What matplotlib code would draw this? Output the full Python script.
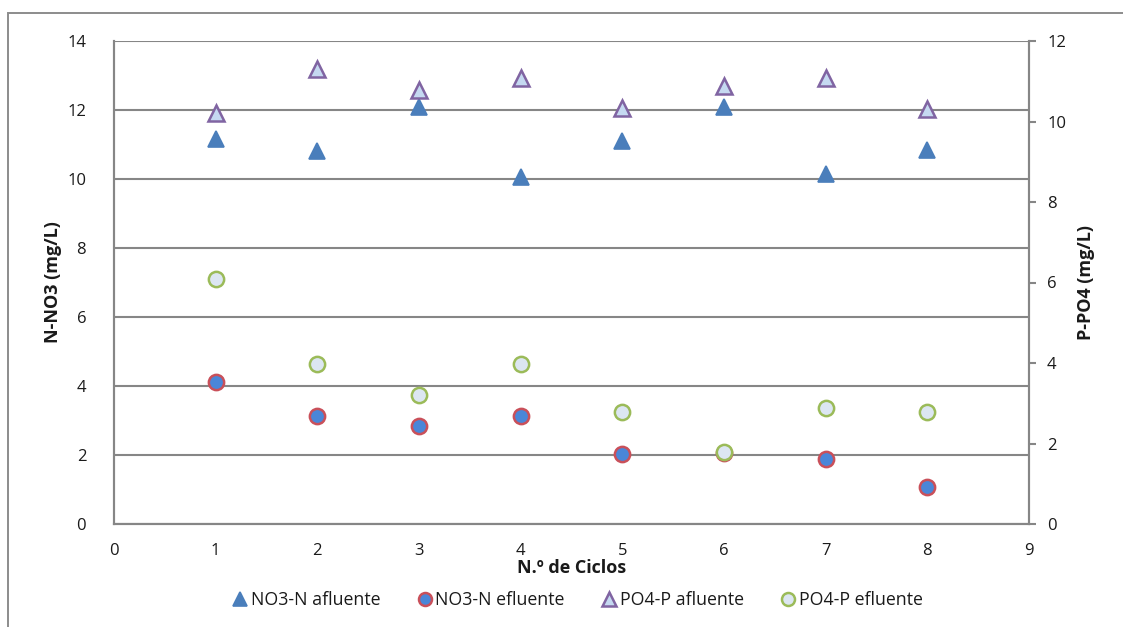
import matplotlib
matplotlib.use("Agg")
import matplotlib.pyplot as plt
from matplotlib.patches import Rectangle

plt.rcParams['font.family'] = ['Open Sans', 'DejaVu Sans']

ciclos = [1, 2, 3, 4, 5, 6, 7, 8]
no3_afluente = [11.15, 10.8, 12.1, 10.05, 11.1, 12.1, 10.15, 10.85]
no3_efluente = [4.12, 3.13, 2.83, 3.13, 2.02, 2.05, 1.88, 1.08]
po4_afluente = [10.2, 11.3, 10.78, 11.07, 10.33, 10.88, 11.09, 10.32]
po4_efluente = [6.08, 3.98, 3.2, 3.98, 2.78, 1.78, 2.88, 2.78]

x_ticks = list(range(0, 10))
left_ticks = list(range(0, 15, 2))
right_ticks = list(range(0, 13, 2))

grid_col = '#868686'
txt_col = '#1a1a1a'

fig = plt.figure(figsize=(11.23, 6.27), dpi=100)
fig.patches.append(Rectangle((8 / 1123, -0.1), 1.2, 1 - 13 / 627 + 0.1,
                             transform=fig.transFigure, fill=False,
                             edgecolor='#8c8c8c', linewidth=1.4))

ax = fig.add_axes([114 / 1123, 1 - 524 / 627, (1029 - 114) / 1123, (524 - 41) / 627])
ax2 = ax.twinx()

ax.set_xlim(0, 9)
ax.set_ylim(0, 14)
ax2.set_ylim(0, 12)

ax.set_xticks(x_ticks)
ax.set_yticks(left_ticks)
ax2.set_yticks(right_ticks)
ax.yaxis.grid(True, color=grid_col, linewidth=1.5)
ax.set_axisbelow(True)

for a in (ax, ax2):
    for s in a.spines.values():
        s.set_color(grid_col)
        s.set_linewidth(1.5)
    a.spines['top'].set_visible(False)

ax.tick_params(axis='x', length=0, pad=14, labelsize=12, labelcolor=txt_col)
ax.tick_params(axis='y', length=0, pad=20, labelsize=12, labelcolor=txt_col)
ax2.tick_params(axis='y', length=5, width=1.5, color=grid_col, pad=8,
                labelsize=12, labelcolor=txt_col)

l1, = ax.plot(ciclos, no3_afluente, linestyle='none', marker='^', markersize=12,
              markerfacecolor='#4a7ebb', markeredgecolor='#4a7ebb',
              markeredgewidth=1.2, label='NO3-N afluente', zorder=3)
l2, = ax.plot(ciclos, no3_efluente, linestyle='none', marker='o', markersize=11,
              markerfacecolor='#4a86d8', markeredgecolor='#c9505a',
              markeredgewidth=1.8, label='NO3-N efluente', zorder=3)
l3, = ax2.plot(ciclos, po4_afluente, linestyle='none', marker='^', markersize=12,
               markerfacecolor='#c5d9f1', markeredgecolor='#8064a2',
               markeredgewidth=1.8, label='PO4-P afluente', zorder=3)
l4, = ax2.plot(ciclos, po4_efluente, linestyle='none', marker='o', markersize=11,
               markerfacecolor='#dce6f2', markeredgecolor='#9bbb59',
               markeredgewidth=1.8, label='PO4-P efluente', zorder=3)

ax.set_ylabel('N-NO3 (mg/L)', fontsize=13, fontweight='bold', color=txt_col, labelpad=4)
ax2.set_ylabel('P-PO4 (mg/L)', fontsize=13, fontweight='bold', color=txt_col, labelpad=8)
ax.set_xlabel('N.º de Ciclos', fontsize=13, fontweight='bold', color=txt_col, labelpad=0)

fig.legend(handles=[l1, l2, l3, l4], loc='center', bbox_to_anchor=(576 / 1123, 1 - 600 / 627),
           ncol=4, frameon=False, fontsize=12.8, handletextpad=0.0, columnspacing=1.9,
           handlelength=1.2, markerscale=0.85, labelcolor=txt_col)

fig.savefig('out.png', dpi=100)
